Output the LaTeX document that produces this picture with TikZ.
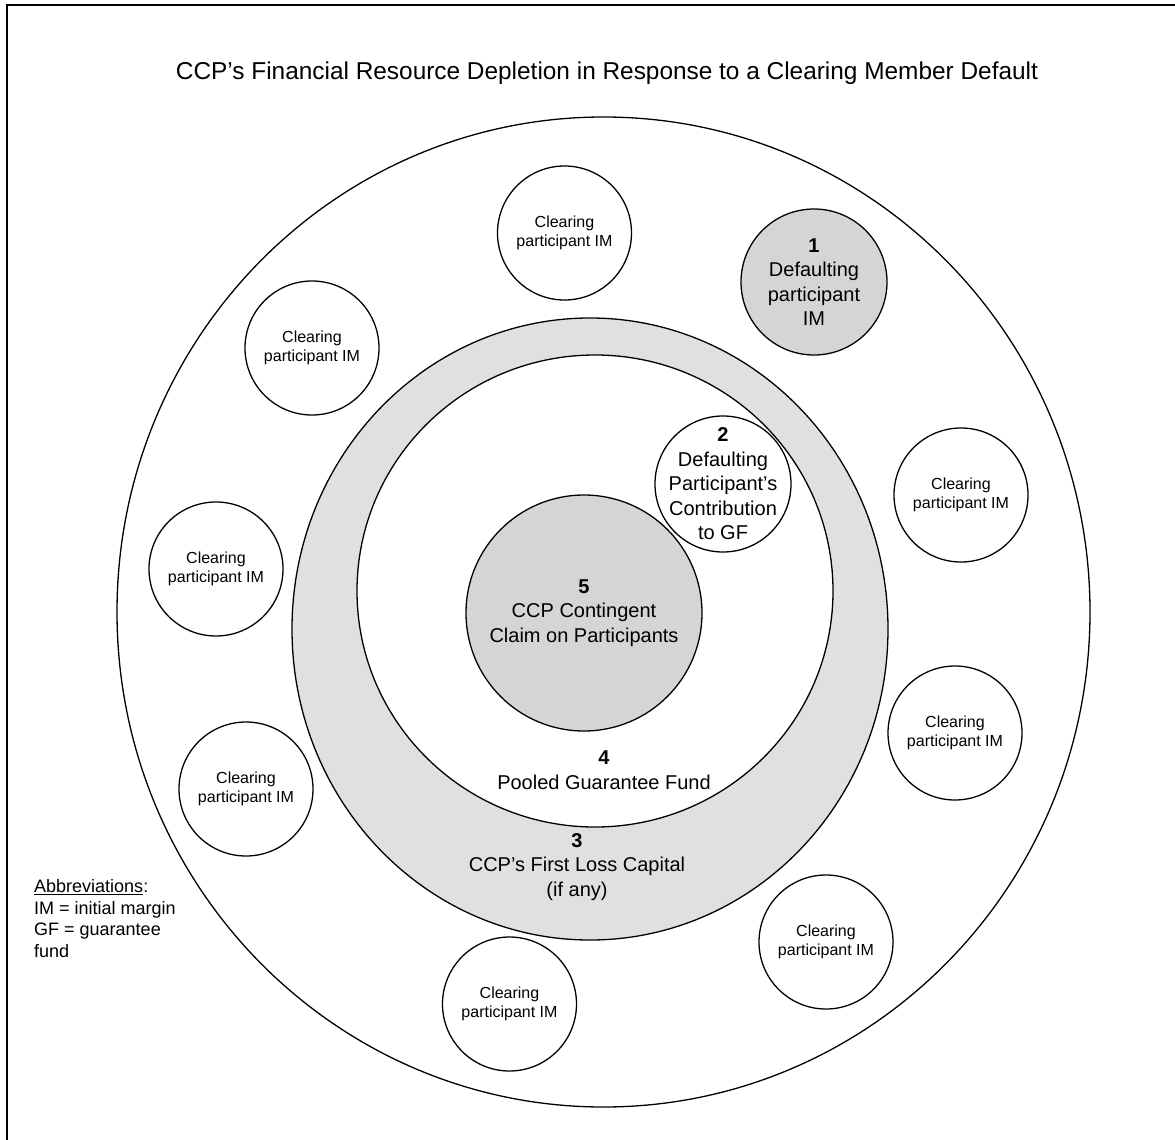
\documentclass[tikz,border=0pt]{standalone}
\usepackage{fontspec}
\setmainfont{Liberation Sans}
\usepackage{tikz}
\usetikzlibrary{positioning}
\definecolor{ringgrey}{HTML}{E0E0E0}
\definecolor{fillgrey}{HTML}{D5D5D5}
\tikzset{
  outline/.style={draw=black, line width=1.3pt},
  member/.style={outline, circle, fill=white, minimum size=134pt, inner sep=0pt, align=center, font=\fontsize{16}{19}\selectfont},
  stage/.style={outline, circle, inner sep=0pt, align=center, font=\fontsize{20}{24.5}\selectfont},
  stagelabel/.style={align=center, font=\fontsize{20}{24.5}\selectfont},
  heading/.style={font=\fontsize{24.4}{28}\selectfont},
  note/.style={align=left, inner sep=0pt, font=\fontsize{18}{21.5}\selectfont}
}

\begin{document}
\begin{tikzpicture}[x=1pt, y=-1pt]
  \useasboundingbox (0,0) rectangle (1175,1140);
  \draw[line width=1.8pt] (7,1140) -- (7,5) -- (1175,5);

  \node[heading, anchor=base] (title) at (607,79) {CCP’s Financial Resource Depletion in Response to a Clearing Member Default};

  \draw[outline] (603.5,612) ellipse [x radius=486.5pt, y radius=495pt];
  \draw[outline, fill=ringgrey] (590,629) ellipse [x radius=298pt, y radius=311pt];
  \draw[outline, fill=white] (595,591) ellipse [x radius=238pt, y radius=236pt];

  \node[member] (cp1) at (564.5,233) {Clearing\\participant IM};
  \node[member] (cp2) at (312,348) {Clearing\\participant IM};
  \node[member] (cp3) at (216,569) {Clearing\\participant IM};
  \node[member] (cp4) at (246,789) {Clearing\\participant IM};
  \node[member] (cp5) at (509.5,1004) {Clearing\\participant IM};
  \node[member] (cp6) at (826,942) {Clearing\\participant IM};
  \node[member] (cp7) at (955,733) {Clearing\\participant IM};
  \node[member] (cp8) at (961,495) {Clearing\\participant IM};

  \node[stage, fill=fillgrey, minimum size=146pt] (s1) at (814,282) {\textbf{1}\\Defaulting\\participant\\IM};
  \node[stage, fill=fillgrey, minimum size=236pt] (s5) at (584,613) {\textbf{5}\\CCP Contingent\\Claim on Participants};
  \node[stage, fill=white, minimum size=136pt] (s2) at (723,484) {};
  \node[stagelabel] (s2text) at (s2) {\textbf{2}\\Defaulting\\Participant’s\\Contribution\\to GF};

  \node[stagelabel] (s4) at (604,770) {\textbf{4}\\Pooled Guarantee Fund};
  \node[stagelabel] (s3) at (577,867) {\textbf{3}\\CCP’s First Loss Capital\\(if any)};

  \node[note, anchor=base west] (abbr) at (34,957) {\underline{Abbreviations}:\\IM = initial margin\\GF = guarantee\\fund};
\end{tikzpicture}
\end{document}
